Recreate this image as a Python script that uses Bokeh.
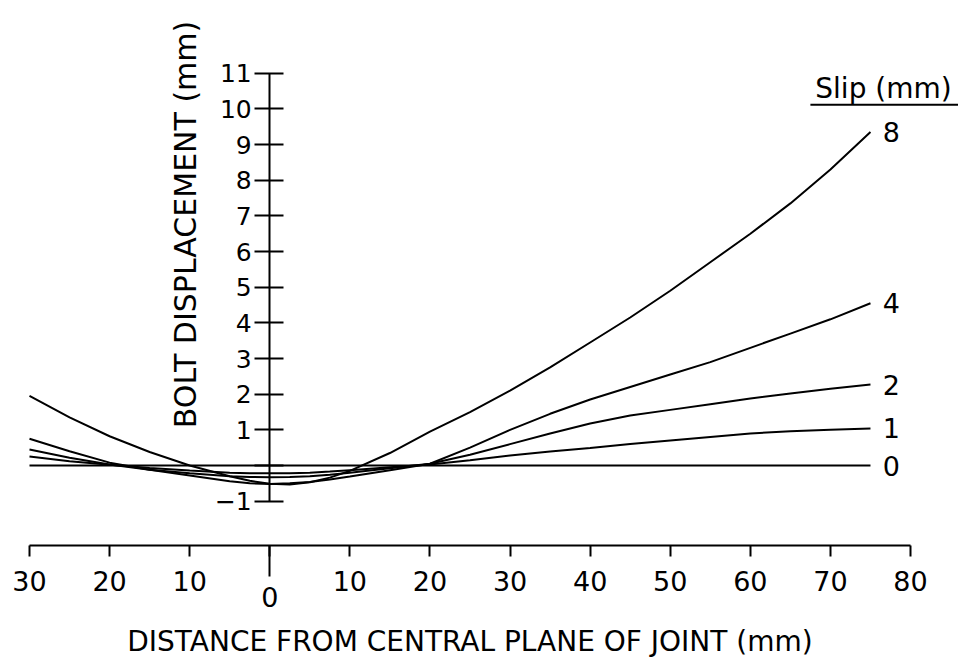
import math
from bokeh.plotting import figure
from bokeh.models import LinearAxis, FixedTicker, Range1d, Label, ColumnDataSource
from bokeh.core.properties import value
from bokeh.embed import file_html
from bokeh.resources import INLINE

# ---- data ----
distance = [-30, -25, -20, -15, -10, -5, -2.5, 0, 2.5, 5, 7.5, 10, 15, 20, 25, 30, 35, 40,
            45, 50, 55, 60, 65, 70, 75]
slip_0 = [0.0] * 25
slip_1 = [0.25, 0.12, 0.02, -0.07, -0.14, -0.20, -0.215, -0.22, -0.215, -0.20, -0.17, -0.13,
          -0.05, 0.03, 0.15, 0.28, 0.39, 0.49, 0.60, 0.70, 0.80, 0.90, 0.96, 1.00, 1.04]
slip_2 = [0.45, 0.22, 0.03, -0.12, -0.22, -0.30, -0.32, -0.33, -0.32, -0.30, -0.26, -0.20,
          -0.08, 0.05, 0.30, 0.60, 0.90, 1.18, 1.40, 1.56, 1.72, 1.88, 2.02, 2.15, 2.27]
slip_4 = [0.75, 0.40, 0.08, -0.12, -0.28, -0.44, -0.50, -0.52, -0.50, -0.46, -0.39, -0.31,
          -0.13, 0.05, 0.50, 1.00, 1.45, 1.85, 2.20, 2.55, 2.90, 3.30, 3.70, 4.10, 4.55]
slip_8 = [1.95, 1.35, 0.82, 0.38, 0.0, -0.30, -0.43, -0.51, -0.53, -0.47, -0.34, -0.15,
          0.35, 0.95, 1.50, 2.10, 2.75, 3.45, 4.15, 4.90, 5.70, 6.50, 7.35, 8.30, 9.35]
series = [slip_0, slip_1, slip_2, slip_4, slip_8]
slip_labels = ["0", "1", "2", "4", "8"]

x_ticks = [-30, -20, -10, 0, 10, 20, 30, 40, 50, 60, 70, 80]
x_tick_labels = ["30", "20", "10", "", "10", "20", "30", "40", "50", "60", "70", "80"]
y_ticks = [-1, 0, 1, 2, 3, 4, 5, 6, 7, 8, 9, 10, 11]

x_title = "DISTANCE FROM CENTRAL PLANE OF JOINT (mm)"
y_title = "BOLT DISPLACEMENT (mm)"
legend_title = "Slip (mm)"

FONT = "DejaVu Sans"

p = figure(width=958, height=664, output_backend="svg", toolbar_location=None,
           x_range=Range1d(-33.62, 85.99), y_range=Range1d(-5.58, 13.04),
           x_axis_location=None, y_axis_location=None, min_border=0)
p.outline_line_color = None
p.xgrid.visible = False
p.ygrid.visible = False
p.background_fill_color = "white"
p.border_fill_color = "white"

x_axis_pos = -2.24

xa = LinearAxis(fixed_location=x_axis_pos, ticker=FixedTicker(ticks=x_ticks),
                major_label_overrides=dict(zip(x_ticks, x_tick_labels)),
                bounds=(-30, 80), major_tick_in=0, major_tick_out=11,
                minor_tick_in=0, minor_tick_out=0,
                axis_line_width=2, major_tick_line_width=2,
                major_label_text_font=FONT, major_label_text_font_size="27px",
                major_label_text_color="black",
                major_label_standoff=15,
                axis_label=x_title, axis_label_standoff=30,
                axis_label_text_font=FONT, axis_label_text_font_size="28px",
                axis_label_text_font_style="normal", axis_label_text_color="black")
p.add_layout(xa, "below")

xa0 = LinearAxis(fixed_location=x_axis_pos, ticker=FixedTicker(ticks=[0]),
                 major_tick_in=0, major_tick_out=31, minor_tick_in=0, minor_tick_out=0,
                 axis_line_color=None, major_tick_line_width=2,
                 major_label_text_font=FONT, major_label_text_font_size="27px",
                 major_label_text_color="black", major_label_standoff=11)
p.add_layout(xa0, "below")

ya = LinearAxis(fixed_location=0, ticker=FixedTicker(ticks=y_ticks), bounds=(-1, 11),
                major_tick_in=14, major_tick_out=15, minor_tick_in=0, minor_tick_out=0,
                major_label_overrides={0: ""},
                axis_line_width=2, major_tick_line_width=2,
                major_label_text_font=FONT, major_label_text_font_size="25px",
                major_label_text_color="black", major_label_standoff=3)
p.add_layout(ya, "left")

for ys in series:
    p.line(distance, ys, line_color="black", line_width=2)

label_x = [distance[-1] + 2.6] * len(series)
label_y = [s[-1] for s in series]
src = ColumnDataSource(dict(x=label_x, y=label_y, t=slip_labels))
p.text(x="x", y="y", text="t", source=src, text_font=value(FONT), text_font_size="27px",
       text_align="center", text_baseline="middle", text_color="black")

p.add_layout(Label(x=185, y=664 - 224, x_units="screen", y_units="screen", text=y_title,
                   angle=math.pi / 2, text_align="center", text_baseline="middle",
                   text_font=FONT, text_font_size="30px", text_color="black"))

p.add_layout(Label(x=883, y=664 - 88, x_units="screen", y_units="screen", text=legend_title,
                   text_align="center", text_baseline="middle",
                   text_font=FONT, text_font_size="28px", text_color="black"))

underline_x = [67.5, 86.0]
underline_y = [10.12, 10.12]
p.line(underline_x, underline_y, line_color="black", line_width=2)

open("out.html", "w").write(file_html(p, INLINE))
